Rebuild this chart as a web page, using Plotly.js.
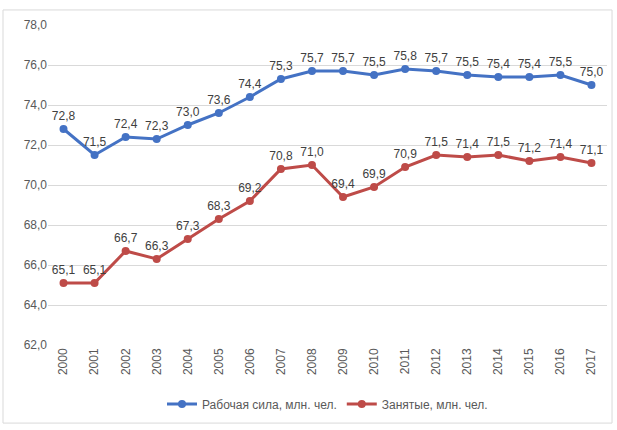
<!DOCTYPE html>
<html>
<head>
<meta charset="utf-8">
<script src="https://cdn.plot.ly/plotly-3.0.1.min.js"></script>
<style>html,body{margin:0;padding:0;background:#fff;}#chart{width:617px;height:430px;}</style>
</head>
<body>
<div id="chart"></div>
<script>
const years = ['2000','2001','2002','2003','2004','2005','2006','2007','2008','2009','2010','2011','2012','2013','2014','2015','2016','2017'];
const labourForce = [72.8,71.5,72.4,72.3,73.0,73.6,74.4,75.3,75.7,75.7,75.5,75.8,75.7,75.5,75.4,75.4,75.5,75.0];
const employed = [65.1,65.1,66.7,66.3,67.3,68.3,69.2,70.8,71.0,69.4,69.9,70.9,71.5,71.4,71.5,71.2,71.4,71.1];
const seriesNames = ['Рабочая сила, млн. чел.','Занятые, млн. чел.'];

const fmt = v => v.toFixed(1).replace('.', ',');
const font = 'Liberation Sans, Arial, sans-serif';

const traces = [
  {x: years, y: labourForce, name: seriesNames[0], type: 'scatter', mode: 'lines+markers+text',
   line: {color: '#4472C4', width: 3}, marker: {color: '#4472C4', size: 8},
   text: labourForce.map(fmt), textposition: 'top center',
   textfont: {family: font, size: 12, color: '#404040'}, cliponaxis: false},
  {x: years, y: employed, name: seriesNames[1], type: 'scatter', mode: 'lines+markers+text',
   line: {color: '#BE4B48', width: 3}, marker: {color: '#BE4B48', size: 8},
   text: employed.map(fmt), textposition: 'top center',
   textfont: {family: font, size: 12, color: '#404040'}, cliponaxis: false}
];

const layout = {
  width: 617, height: 430,
  margin: {l: 48, r: 10, t: 25, b: 85},
  paper_bgcolor: '#fff', plot_bgcolor: '#fff',
  separators: ', ',
  font: {family: font, size: 12, color: '#595959'},
  showlegend: true,
  legend: {orientation: 'h', x: 0.5, xanchor: 'center', y: -0.184, yanchor: 'middle',
           font: {family: font, size: 12, color: '#595959'}},
  xaxis: {type: 'category', range: [-0.5, 17.5], tickangle: -90, showgrid: false,
          showline: false, ticks: '', zeroline: false,
          tickfont: {family: font, size: 12, color: '#595959'}},
  yaxis: {range: [62, 78], dtick: 2, tickformat: '.1f', showgrid: true, gridcolor: '#D9D9D9',
          gridwidth: 1, zeroline: false, showline: false, ticks: '', ticklen: 0,
          tickfont: {family: font, size: 12, color: '#595959'}},
  shapes: [{type: 'rect', xref: 'paper', yref: 'paper', x0: -0.0805, x1: 1.009, y0: -0.244, y1: 1.047,
            line: {color: '#D9D9D9', width: 1}, fillcolor: 'rgba(0,0,0,0)'}]
};

Plotly.newPlot('chart', traces, layout, {displayModeBar: false, staticPlot: true});
</script>
</body>
</html>
